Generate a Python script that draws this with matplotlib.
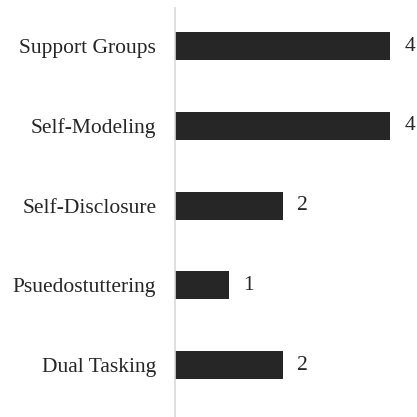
import matplotlib.pyplot as plt

categories = ['Support Groups', 'Self-Modeling', 'Self-Disclosure', 'Psuedostuttering', 'Dual Tasking']
counts = [4, 4, 2, 1, 2]

plt.rcParams['font.family'] = ['Liberation Serif', 'DejaVu Serif']

fig = plt.figure(figsize=(4.17, 4.17), dpi=100)
ax = fig.add_axes([175 / 417, 0, 1 - 175 / 417, 1 - 8 / 417])

y = list(range(len(categories)))
ax.barh(y, counts, height=0.35, color='#262626')

for yi, c in zip(y, counts):
    ax.text(c + 0.27, yi, str(c), va='center', ha='left', fontsize=15.5, color='#262626')

ax.set_yticks(y)
ax.set_yticklabels(categories, fontsize=15.5, color='#262626')
ax.tick_params(axis='y', length=0, pad=13.5)
ax.set_xticks([])
ax.set_xlim(0, 4.5)
ax.set_ylim(4.65, -0.48)

for side in ['top', 'right', 'bottom']:
    ax.spines[side].set_visible(False)
ax.spines['left'].set_color('#d9d9d9')
ax.spines['left'].set_linewidth(1.2)

plt.savefig('out.png', dpi=100)
plt.close()
